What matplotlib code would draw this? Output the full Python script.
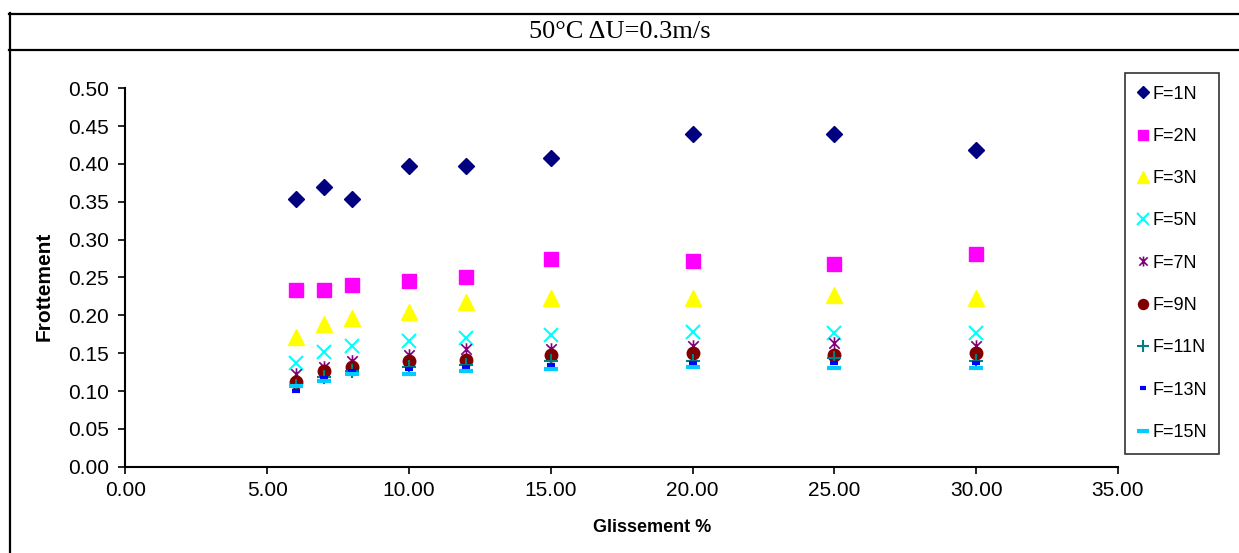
import numpy as np
import matplotlib.pyplot as plt
from matplotlib.lines import Line2D
from matplotlib.path import Path

# Glissement (%) for every series
glissement = [6, 7, 8, 10, 12, 15, 20, 25, 30]

# Frottement for each normal load
f1 = [0.354, 0.369, 0.354, 0.397, 0.397, 0.408, 0.439, 0.439, 0.419]
f2 = [0.233, 0.233, 0.240, 0.246, 0.250, 0.274, 0.272, 0.268, 0.281]
f3 = [0.172, 0.188, 0.196, 0.205, 0.218, 0.223, 0.223, 0.227, 0.223]
f5 = [0.137, 0.151, 0.159, 0.166, 0.170, 0.174, 0.178, 0.176, 0.176]
f7 = [0.123, 0.132, 0.139, 0.148, 0.156, 0.155, 0.159, 0.163, 0.159]
f9 = [0.112, 0.126, 0.132, 0.139, 0.141, 0.148, 0.150, 0.148, 0.150]
f11 = [0.107, 0.119, 0.126, 0.132, 0.134, 0.139, 0.140, 0.144, 0.140]
f13 = [0.100, 0.117, 0.126, 0.129, 0.132, 0.135, 0.137, 0.137, 0.137]
f15 = [0.106, 0.113, 0.123, 0.123, 0.127, 0.129, 0.132, 0.130, 0.131]

labels = ['F=1N', 'F=2N', 'F=3N', 'F=5N', 'F=7N', 'F=9N', 'F=11N', 'F=13N', 'F=15N']
series = [f1, f2, f3, f5, f7, f9, f11, f13, f15]

# excel style star: X with a vertical bar
star = Path([(-1, -1), (1, 1), (-1, 1), (1, -1), (0, -1.2), (0, 1.2)],
            [Path.MOVETO, Path.LINETO, Path.MOVETO, Path.LINETO, Path.MOVETO, Path.LINETO])

styles = [
    dict(marker='D', color='#000080', ms=8),
    dict(marker='s', color='#FF00FF', ms=9.5),
    dict(marker='^', color='#FFFF00', ms=11),
    dict(marker='x', color='#00FFFF', ms=10, mew=1.5),
    dict(marker=star, color='#800080', ms=9, mew=1.2),
    dict(marker='o', color='#800000', ms=9),
    dict(marker='+', color='#008080', ms=10, mew=1.5),
    dict(marker='_', color='#0000FF', ms=6, mew=3),
    dict(marker='_', color='#00CCFF', ms=10, mew=3),
]

fig = plt.figure(figsize=(12.39, 5.53), dpi=100)
ax = fig.add_axes([0.1012, 0.1561, 0.8011, 0.6842])

for vals, lab, st in zip(series, labels, styles):
    ax.plot(glissement, vals, linestyle='none', label=lab, **st)

ax.set_xlim(0, 35)
ax.set_ylim(0, 0.5)
ax.set_xticks(np.arange(0, 36, 5))
ax.set_yticks(np.arange(0, 0.51, 0.05))
ax.set_xticklabels(['%.2f' % v for v in np.arange(0, 36, 5)])
ax.set_yticklabels(['%.2f' % v for v in np.arange(0, 0.51, 0.05)])
ax.tick_params(direction='out', length=5, width=1.2, labelsize=15, pad=5)
ax.tick_params(axis='y', pad=7)
for lab in ax.get_xticklabels() + ax.get_yticklabels():
    lab.set_family('Liberation Sans')
ax.spines['top'].set_visible(False)
ax.spines['right'].set_visible(False)
ax.spines['left'].set_linewidth(1.5)
ax.spines['bottom'].set_linewidth(1.5)

ax.set_xlabel('Glissement %', fontsize=13, fontweight='bold', family='Liberation Sans', labelpad=14)
ax.set_ylabel('Frottement', fontsize=15, fontweight='bold', family='Liberation Sans', labelpad=10)
ax.xaxis.label.set_x(0.5305)
ax.yaxis.label.set_y(0.4775)

leg = ax.legend(loc='upper left', bbox_to_anchor=(1125 / 1239, 1 - 73 / 553),
                bbox_transform=fig.transFigure, frameon=True, fancybox=False,
                edgecolor='black', prop={'family': 'Liberation Sans', 'size': 13},
                handlelength=0.6, handletextpad=0.2, labelspacing=1.40,
                borderpad=0.7, borderaxespad=0, markerscale=0.8)
leg.get_frame().set_linewidth(1.2)

# table cell borders round the chart
def fx(px):
    return px / 1239

def fy(py):
    return 1 - py / 553

fig.add_artist(Line2D([fx(9), 1], [fy(14), fy(14)], color='black', lw=1.6))
fig.add_artist(Line2D([fx(9), 1], [fy(50), fy(50)], color='black', lw=1.6))
fig.add_artist(Line2D([fx(10), fx(10)], [fy(13), 0], color='black', lw=1.6))
fig.text(fx(620), fy(32), '50°C ΔU=0.3m/s', ha='center', va='center',
         fontsize=19, family='Liberation Serif')

fig.savefig('out.png', dpi=100)
